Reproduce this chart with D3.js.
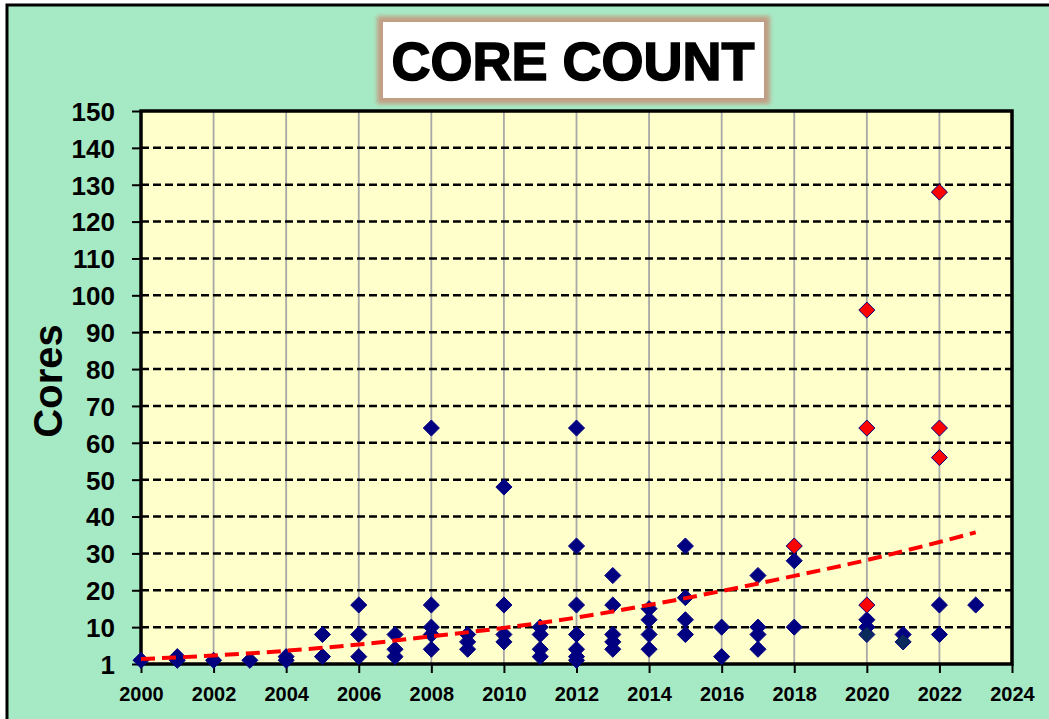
<!DOCTYPE html>
<html>
<head>
<meta charset="utf-8">
<script src="https://cdn.jsdelivr.net/npm/d3@7"></script>
<style>
  html, body { margin: 0; padding: 0; background: #ffffff; }
  svg { display: block; }
  text { font-family: "Liberation Sans", Arial, sans-serif; font-weight: bold; }
</style>
</head>
<body>
<svg id="chart" width="1049" height="719"></svg>
<script>
// ---------------- DATA ----------------
const title = "CORE COUNT";
const yAxisTitle = "Cores";

const xTickValues = [2000, 2002, 2004, 2006, 2008, 2010, 2012, 2014, 2016, 2018, 2020, 2022, 2024];
const xTickLabels = ["2000", "2002", "2004", "2006", "2008", "2010", "2012", "2014", "2016", "2018", "2020", "2022", "2024"];
const yTickValues = [0, 10, 20, 30, 40, 50, 60, 70, 80, 90, 100, 110, 120, 130, 140, 150];
const yTickLabels = ["1", "10", "20", "30", "40", "50", "60", "70", "80", "90", "100", "110", "120", "130", "140", "150"];

// Blue diamonds (year, cores)
const blueYears = [
  2000,
  2001, 2001,
  2002,
  2003,
  2004, 2004,
  2005, 2005,
  2006, 2006, 2006,
  2007, 2007, 2007,
  2008, 2008, 2008, 2008, 2008,
  2009, 2009, 2009,
  2010, 2010, 2010, 2010,
  2011, 2011, 2011, 2011,
  2012, 2012, 2012, 2012, 2012, 2012, 2012,
  2013, 2013, 2013, 2013, 2013,
  2014, 2014, 2014, 2014,
  2015, 2015, 2015, 2015,
  2016, 2016,
  2017, 2017, 2017, 2017,
  2018, 2018,
  2020, 2020,
  2021,
  2022, 2022,
  2023
];
const blueCores = [
  1,
  1, 2,
  1,
  1,
  1, 2,
  2, 8,
  2, 8, 16,
  2, 4, 8,
  4, 8, 10, 16, 64,
  4, 6, 8,
  6, 8, 16, 48,
  2, 4, 8, 10,
  1, 2, 4, 8, 16, 32, 64,
  4, 6, 8, 16, 24,
  4, 8, 12, 15,
  8, 12, 18, 32,
  2, 10,
  4, 8, 10, 24,
  10, 28,
  10, 12,
  8,
  8, 16,
  16
];

// Darker navy diamonds
const darkYears = [2020, 2021];
const darkCores = [8, 6];

// Red diamonds
const redYears = [2018, 2020, 2020, 2020, 2022, 2022, 2022];
const redCores = [32, 16, 64, 96, 56, 64, 128];

// Trend line
const trendYears = [2000, 2002, 2004, 2006, 2008, 2010, 2012, 2014, 2016, 2018, 2020, 2022, 2023];
const trendValues = [1.35, 2.3, 3.6, 5.3, 7.5, 9.8, 12.6, 16.0, 19.8, 23.9, 28.2, 33.1, 35.7];

// ---------------- LAYOUT ----------------
const svg = d3.select("#chart");
const plot = { left: 141, right: 1012, top: 111, bottom: 664 };

const x = d3.scaleLinear().domain([2000, 2024]).range([plot.left, plot.right]);
const y = d3.scaleLinear().domain([0, 150]).range([plot.bottom, plot.top]);

// defs
const defs = svg.append("defs");
const blur = defs.append("filter").attr("id", "glow").attr("x", "-10%").attr("y", "-20%").attr("width", "120%").attr("height", "140%");
blur.append("feGaussianBlur").attr("stdDeviation", 2.2);

// outer chart area
svg.append("rect")
  .attr("x", 7).attr("y", 5).attr("width", 1100).attr("height", 800)
  .attr("fill", "#a6eac5").attr("stroke", "#000").attr("stroke-width", 3);

// title box
svg.append("rect")
  .attr("x", 377).attr("y", 16).attr("width", 393).attr("height", 88)
  .attr("fill", "#c19f84").attr("filter", "url(#glow)");
svg.append("rect")
  .attr("x", 383).attr("y", 22).attr("width", 381).attr("height", 76)
  .attr("fill", "#ffffff");
svg.append("text")
  .attr("x", 573).attr("y", 80)
  .attr("text-anchor", "middle")
  .attr("font-size", 54)
  .attr("fill", "#000")
  .attr("stroke", "#000").attr("stroke-width", 1.6)
  .text(title);

// plot background
svg.append("rect")
  .attr("x", plot.left).attr("y", plot.top)
  .attr("width", plot.right - plot.left).attr("height", plot.bottom - plot.top)
  .attr("fill", "#ffffcc");

// vertical grid lines
svg.append("g").selectAll("line")
  .data(xTickValues.filter(v => v > 2000 && v < 2024))
  .join("line")
  .attr("x1", d => x(d)).attr("x2", d => x(d))
  .attr("y1", plot.top).attr("y2", plot.bottom)
  .attr("stroke", "#a8a8a8").attr("stroke-width", 1.8);

// horizontal dashed grid lines
svg.append("g").selectAll("line")
  .data(yTickValues.filter(v => v > 0 && v < 150))
  .join("line")
  .attr("x1", plot.left).attr("x2", plot.right)
  .attr("y1", d => y(d)).attr("y2", d => y(d))
  .attr("stroke", "#000").attr("stroke-width", 2.5)
  .attr("stroke-dasharray", "8,4");

// Y axis
const yAxis = d3.axisLeft(y)
  .tickValues(yTickValues)
  .tickSize(9)
  .tickPadding(17)
  .tickFormat((d, i) => yTickLabels[i]);
const gy = svg.append("g").attr("transform", `translate(${plot.left},0)`).call(yAxis);
gy.select(".domain").remove();
gy.selectAll(".tick line").attr("stroke", "#000").attr("stroke-width", 2);
gy.selectAll(".tick text")
  .attr("font-size", 26).attr("font-weight", "bold")
  .attr("font-family", "'Liberation Sans', Arial, sans-serif")
  .attr("fill", "#000")
  .attr("dy", "0.36em");

// X axis
const xAxis = d3.axisBottom(x)
  .tickValues(xTickValues)
  .tickSize(9)
  .tickPadding(14)
  .tickFormat((d, i) => xTickLabels[i]);
const gx = svg.append("g").attr("transform", `translate(0,${plot.bottom})`).call(xAxis);
gx.select(".domain").remove();
gx.selectAll(".tick line").attr("stroke", "#000").attr("stroke-width", 2);
gx.selectAll(".tick text")
  .attr("font-size", 20).attr("font-weight", "bold")
  .attr("font-family", "'Liberation Sans', Arial, sans-serif")
  .attr("fill", "#000");

// plot border
svg.append("rect")
  .attr("x", plot.left).attr("y", plot.top)
  .attr("width", plot.right - plot.left).attr("height", plot.bottom - plot.top)
  .attr("fill", "none").attr("stroke", "#000").attr("stroke-width", 3.5);

// Y axis title
svg.append("text")
  .attr("transform", `translate(62,381) rotate(-90)`)
  .attr("text-anchor", "middle")
  .attr("font-size", 40)
  .attr("fill", "#000")
  .text(yAxisTitle);

// diamonds
const diamond = d3.symbol().type(d3.symbolDiamond2).size(165);
function drawPoints(years, cores, fill, stroke) {
  svg.append("g").selectAll("path")
    .data(years.map((yr, i) => [yr, cores[i]]))
    .join("path")
    .attr("d", diamond)
    .attr("transform", d => `translate(${x(d[0])},${y(d[1])})`)
    .attr("fill", fill)
    .attr("stroke", stroke)
    .attr("stroke-width", 1);
}
drawPoints(blueYears, blueCores, "#000080", "#000080");
drawPoints(darkYears, darkCores, "#0b2a5c", "#000080");
drawPoints(redYears, redCores, "#ff0000", "#000080");

// trend line
const line = d3.line()
  .x((d, i) => x(trendYears[i]))
  .y(d => y(d))
  .curve(d3.curveMonotoneX);
svg.append("path")
  .datum(trendValues)
  .attr("d", line)
  .attr("fill", "none")
  .attr("stroke", "#ff0000")
  .attr("stroke-width", 4)
  .attr("stroke-dasharray", "14,7");
</script>
</body>
</html>
